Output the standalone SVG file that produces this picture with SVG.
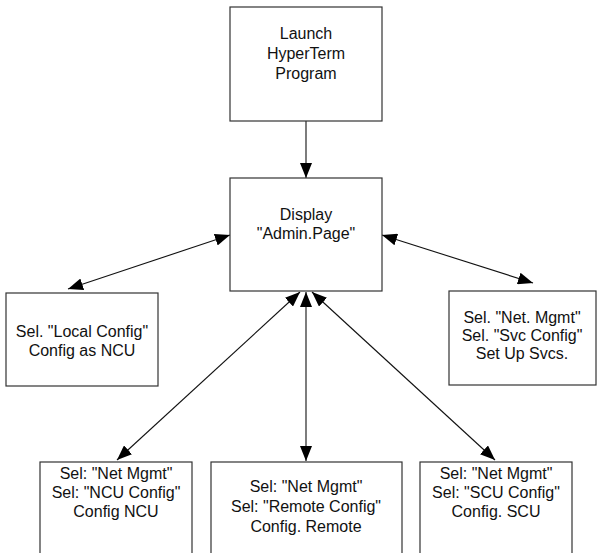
<svg xmlns="http://www.w3.org/2000/svg" width="598" height="553" viewBox="0 0 598 553">
<style>
.box{fill:#fff;stroke:#333;stroke-width:1.2}
.t{font-family:"Liberation Sans",Arial,sans-serif;font-size:16px;fill:#111;text-anchor:middle}
.c{stroke:#111;stroke-width:1.1;fill:none}
</style>
<defs>
<marker id="ah" viewBox="0 0 15 12" refX="15" refY="6" markerWidth="15" markerHeight="12" markerUnits="userSpaceOnUse" orient="auto-start-reverse">
<path d="M0,0 L15,6 L0,12 Z" fill="#000"/>
</marker>
</defs>
<rect width="598" height="553" fill="#fff"/>
<g id="connectors">
<line class="c" x1="306" y1="121" x2="306" y2="178" marker-end="url(#ah)"/>
<line class="c" x1="68" y1="289" x2="230" y2="235" marker-start="url(#ah)" marker-end="url(#ah)"/>
<line class="c" x1="382" y1="235" x2="533" y2="283" marker-start="url(#ah)" marker-end="url(#ah)"/>
<line class="c" x1="117" y1="460" x2="300" y2="292" marker-start="url(#ah)" marker-end="url(#ah)"/>
<line class="c" x1="306" y1="461" x2="306" y2="292" marker-start="url(#ah)" marker-end="url(#ah)"/>
<line class="c" x1="495" y1="460" x2="312" y2="292" marker-start="url(#ah)" marker-end="url(#ah)"/>
</g>
<g id="launch">
<rect class="box" x="230" y="7" width="152" height="114"/>
<text class="t" x="306" y="39">Launch</text>
<text class="t" x="306" y="59">HyperTerm</text>
<text class="t" x="306" y="79">Program</text>
</g>
<g id="display">
<rect class="box" x="230" y="178" width="152" height="113"/>
<text class="t" x="306" y="220">Display</text>
<text class="t" x="306" y="239">"Admin.Page"</text>
</g>
<g id="local">
<rect class="box" x="6" y="293" width="152" height="93"/>
<text class="t" x="82" y="337">Sel. "Local Config"</text>
<text class="t" x="82" y="356">Config as NCU</text>
</g>
<g id="svc">
<rect class="box" x="449" y="291" width="147" height="94"/>
<text class="t" x="522" y="323">Sel. "Net. Mgmt"</text>
<text class="t" x="522" y="341">Sel. "Svc Config"</text>
<text class="t" x="522" y="359">Set Up Svcs.</text>
</g>
<g id="ncu">
<rect class="box" x="40" y="462" width="152" height="100"/>
<text class="t" x="116" y="479">Sel: "Net Mgmt"</text>
<text class="t" x="116" y="498">Sel: "NCU Config"</text>
<text class="t" x="116" y="517">Config NCU</text>
</g>
<g id="remote">
<rect class="box" x="211" y="462" width="191" height="100"/>
<text class="t" x="306" y="492">Sel: "Net Mgmt"</text>
<text class="t" x="306" y="512">Sel: "Remote Config"</text>
<text class="t" x="306" y="532">Config. Remote</text>
</g>
<g id="scu">
<rect class="box" x="420" y="462" width="152" height="100"/>
<text class="t" x="496" y="479">Sel: "Net Mgmt"</text>
<text class="t" x="496" y="498">Sel: "SCU Config"</text>
<text class="t" x="496" y="517">Config. SCU</text>
</g>
</svg>
